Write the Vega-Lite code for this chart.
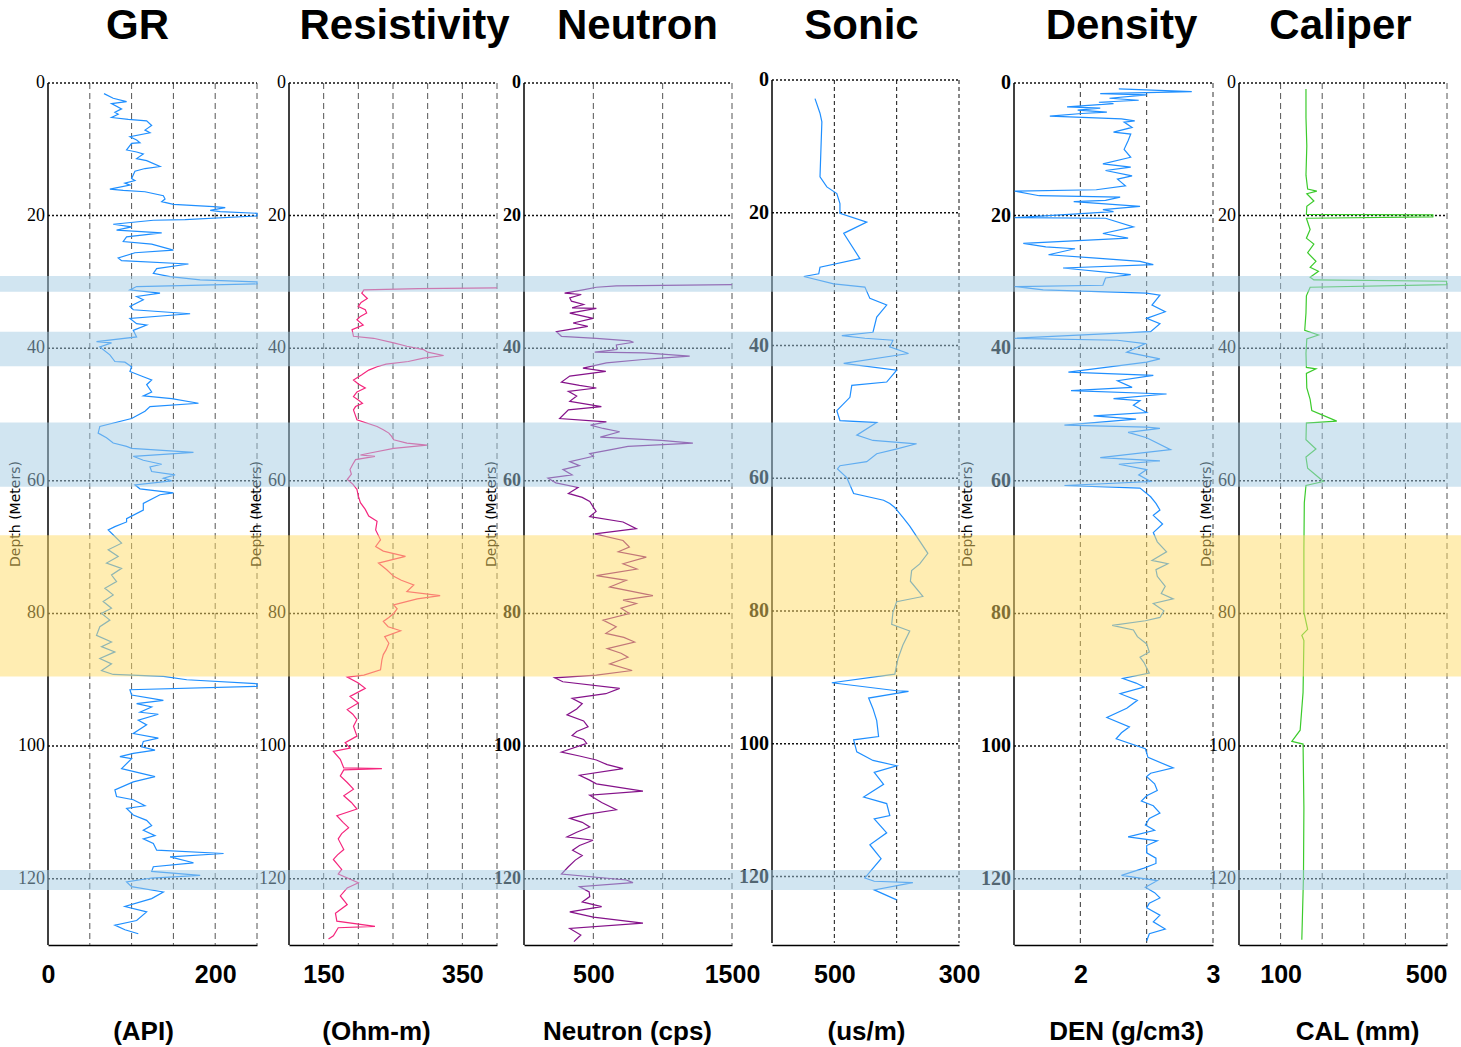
{
  "$schema": "https://vega.github.io/schema/vega-lite/v6.json",
  "width": 1461,
  "height": 945,
  "autosize": {"type": "none"},
  "padding": {"left": 0, "top": 0, "right": 0, "bottom": 102},
  "background": "white",
  "config": {
    "view": {"stroke": null},
    "axisX": {
      "ticks": false, "domain": true, "domainColor": "#000", "domainWidth": 1.5, "grid": false,
      "labelFont": "Liberation Sans", "labelFontSize": 25, "labelFontWeight": "bold", "labelPadding": 17,
      "labelColor": "#000", "labelFlush": false, "labelOverlap": false,
      "titleFont": "Liberation Sans", "titleFontSize": 26, "titleFontWeight": "bold", "titleColor": "#000",
      "titleBaseline": "middle", "titleAlign": "center"
    }
  },
  "datasets": {
    "depthticks": [{"depth":0},{"depth":20},{"depth":40},{"depth":60},{"depth":80},{"depth":100},{"depth":120}],
    "ytitle": [{"label": "Depth (Meters)"}],
    "xticks": [
      {"track":"GR","value":50},{"track":"GR","value":100},{"track":"GR","value":150},{"track":"GR","value":200},{"track":"GR","value":250},
      {"track":"RES","value":150},{"track":"RES","value":200},{"track":"RES","value":250},{"track":"RES","value":300},{"track":"RES","value":350},{"track":"RES","value":400},
      {"track":"NEU","value":500},{"track":"NEU","value":1000},{"track":"NEU","value":1500},
      {"track":"SON","value":500},{"track":"SON","value":400},{"track":"SON","value":300},
      {"track":"DEN","value":2},{"track":"DEN","value":2.5},{"track":"DEN","value":3},
      {"track":"CAL","value":100},{"track":"CAL","value":200},{"track":"CAL","value":300},{"track":"CAL","value":400},{"track":"CAL","value":500}
    ],
    "gr": [
      {"depth":1.6,"value":67},{"depth":2.3,"value":78},{"depth":2.8,"value":94},{"depth":3.1,"value":76},{"depth":3.9,"value":88},{"depth":4.4,"value":80},{"depth":4.7,"value":84},{"depth":5.2,"value":76},{"depth":5.5,"value":96},{"depth":5.7,"value":118},{"depth":6.4,"value":124},{"depth":7.1,"value":116},{"depth":7.5,"value":122},{"depth":8.1,"value":98},{"depth":8.6,"value":106},{"depth":9.0,"value":110},{"depth":9.1,"value":100},{"depth":10.1,"value":94},{"depth":10.4,"value":106},{"depth":10.7,"value":114},{"depth":11.4,"value":106},{"depth":11.7,"value":118},{"depth":12.6,"value":134},{"depth":12.9,"value":116},{"depth":13.3,"value":104},{"depth":14.4,"value":100},{"depth":14.7,"value":104},{"depth":15.1,"value":92},{"depth":15.4,"value":98},{"depth":16.0,"value":74},{"depth":16.2,"value":90},{"depth":16.4,"value":116},{"depth":17.0,"value":138},{"depth":17.5,"value":140},{"depth":17.9,"value":136},{"depth":18.3,"value":150},{"depth":18.65,"value":198},{"depth":18.8,"value":212},{"depth":19.2,"value":194},{"depth":19.4,"value":206},{"depth":19.65,"value":250},{"depth":20.05,"value":250},{"depth":20.6,"value":164},{"depth":20.7,"value":126},{"depth":21.3,"value":78},{"depth":21.7,"value":100},{"depth":22.2,"value":82},{"depth":22.6,"value":136},{"depth":23.2,"value":94},{"depth":23.9,"value":90},{"depth":24.3,"value":124},{"depth":25.2,"value":150},{"depth":25.6,"value":104},{"depth":26.4,"value":84},{"depth":26.8,"value":88},{"depth":27.3,"value":168},{"depth":28.0,"value":130},{"depth":28.7,"value":126},{"depth":29.2,"value":146},{"depth":29.7,"value":182},{"depth":30.0,"value":250},{"depth":30.3,"value":250},{"depth":30.7,"value":106},{"depth":31.2,"value":98},{"depth":31.7,"value":134},{"depth":32.2,"value":106},{"depth":32.7,"value":114},{"depth":33.7,"value":98},{"depth":34.2,"value":102},{"depth":34.8,"value":170},{"depth":35.5,"value":98},{"depth":36.3,"value":106},{"depth":36.5,"value":118},{"depth":37.3,"value":102},{"depth":38.3,"value":106},{"depth":39.0,"value":58},{"depth":39.2,"value":76},{"depth":39.8,"value":62},{"depth":41.0,"value":74},{"depth":42.0,"value":80},{"depth":42.1,"value":92},{"depth":42.8,"value":100},{"depth":43.5,"value":98},{"depth":44.3,"value":114},{"depth":44.8,"value":124},{"depth":45.5,"value":118},{"depth":46.6,"value":124},{"depth":47.2,"value":114},{"depth":47.6,"value":148},{"depth":48.3,"value":180},{"depth":48.8,"value":122},{"depth":49.5,"value":116},{"depth":50.6,"value":100},{"depth":51.8,"value":62},{"depth":52.8,"value":60},{"depth":53.5,"value":70},{"depth":54.3,"value":78},{"depth":54.8,"value":94},{"depth":55.1,"value":100},{"depth":55.7,"value":174},{"depth":56.3,"value":102},{"depth":56.9,"value":114},{"depth":57.5,"value":136},{"depth":57.9,"value":122},{"depth":58.6,"value":124},{"depth":59.1,"value":152},{"depth":59.6,"value":138},{"depth":60.0,"value":148},{"depth":60.6,"value":104},{"depth":61.2,"value":110},{"depth":61.8,"value":150},{"depth":62.1,"value":134},{"depth":63.4,"value":114},{"depth":64.4,"value":114},{"depth":65.7,"value":94},{"depth":66.2,"value":94},{"depth":66.9,"value":80},{"depth":67.4,"value":72},{"depth":68.4,"value":80},{"depth":69.4,"value":88},{"depth":70.4,"value":72},{"depth":71.4,"value":84},{"depth":72.4,"value":70},{"depth":73.2,"value":88},{"depth":74.2,"value":76},{"depth":75.2,"value":82},{"depth":76.2,"value":68},{"depth":77.2,"value":78},{"depth":78.2,"value":66},{"depth":79.2,"value":76},{"depth":80.0,"value":64},{"depth":81.0,"value":74},{"depth":82.0,"value":62},{"depth":83.3,"value":58},{"depth":84.3,"value":76},{"depth":85.0,"value":64},{"depth":85.8,"value":80},{"depth":86.8,"value":62},{"depth":87.6,"value":76},{"depth":88.6,"value":64},{"depth":89.2,"value":78},{"depth":89.5,"value":138},{"depth":90.0,"value":166},{"depth":90.6,"value":250},{"depth":91.0,"value":250},{"depth":91.5,"value":98},{"depth":92.3,"value":100},{"depth":93.1,"value":138},{"depth":93.6,"value":106},{"depth":94.1,"value":124},{"depth":94.9,"value":110},{"depth":95.2,"value":132},{"depth":96.1,"value":108},{"depth":96.8,"value":118},{"depth":98.1,"value":102},{"depth":98.8,"value":132},{"depth":99.3,"value":114},{"depth":100.1,"value":112},{"depth":100.6,"value":128},{"depth":101.1,"value":102},{"depth":101.6,"value":86},{"depth":101.9,"value":100},{"depth":103.4,"value":88},{"depth":104.6,"value":128},{"depth":105.4,"value":102},{"depth":106.6,"value":80},{"depth":107.6,"value":82},{"depth":108.1,"value":102},{"depth":109.0,"value":116},{"depth":109.4,"value":94},{"depth":110.4,"value":102},{"depth":111.2,"value":118},{"depth":112.0,"value":124},{"depth":112.7,"value":114},{"depth":113.5,"value":128},{"depth":114.0,"value":114},{"depth":114.7,"value":126},{"depth":115.7,"value":130},{"depth":116.2,"value":210},{"depth":116.7,"value":146},{"depth":117.6,"value":174},{"depth":118.2,"value":126},{"depth":118.9,"value":124},{"depth":119.5,"value":182},{"depth":119.9,"value":124},{"depth":120.5,"value":94},{"depth":121.2,"value":100},{"depth":122.0,"value":138},{"depth":123.0,"value":124},{"depth":124.2,"value":92},{"depth":125.0,"value":118},{"depth":126.3,"value":106},{"depth":127.0,"value":80},{"depth":127.7,"value":92},{"depth":128.3,"value":108}
    ],
    "res": [
      {"depth":30.9,"value":400},{"depth":31.0,"value":287},{"depth":31.2,"value":208},{"depth":31.7,"value":205},{"depth":32.5,"value":213},{"depth":33.1,"value":204},{"depth":33.7,"value":200},{"depth":34.2,"value":210},{"depth":34.7,"value":212},{"depth":35.2,"value":203},{"depth":35.7,"value":198},{"depth":36.5,"value":207},{"depth":37.2,"value":191},{"depth":38.2,"value":193},{"depth":38.5,"value":222},{"depth":39.2,"value":251},{"depth":39.7,"value":270},{"depth":40.2,"value":294},{"depth":40.6,"value":300},{"depth":41.1,"value":323},{"depth":41.5,"value":294},{"depth":42.0,"value":272},{"depth":42.4,"value":240},{"depth":42.8,"value":227},{"depth":43.3,"value":215},{"depth":44.0,"value":205},{"depth":44.8,"value":193},{"depth":45.4,"value":200},{"depth":46.0,"value":210},{"depth":46.6,"value":198},{"depth":47.3,"value":193},{"depth":47.8,"value":200},{"depth":48.3,"value":206},{"depth":48.8,"value":196},{"depth":49.3,"value":193},{"depth":50.8,"value":198},{"depth":51.8,"value":227},{"depth":52.3,"value":236},{"depth":52.8,"value":244},{"depth":53.3,"value":248},{"depth":53.8,"value":251},{"depth":54.3,"value":270},{"depth":54.6,"value":299},{"depth":55.1,"value":251},{"depth":55.8,"value":217},{"depth":56.1,"value":203},{"depth":56.3,"value":224},{"depth":56.8,"value":196},{"depth":57.5,"value":192},{"depth":58.3,"value":188},{"depth":59.0,"value":190},{"depth":59.8,"value":184},{"depth":60.5,"value":192},{"depth":61.3,"value":198},{"depth":62.3,"value":200},{"depth":63.3,"value":203},{"depth":64.3,"value":210},{"depth":65.3,"value":215},{"depth":66.1,"value":227},{"depth":67.4,"value":225},{"depth":68.9,"value":232},{"depth":69.9,"value":225},{"depth":70.6,"value":236},{"depth":71.4,"value":268},{"depth":72.4,"value":229},{"depth":73.4,"value":241},{"depth":74.4,"value":251},{"depth":75.0,"value":262},{"depth":75.7,"value":280},{"depth":76.7,"value":270},{"depth":77.3,"value":318},{"depth":77.8,"value":285},{"depth":78.7,"value":251},{"depth":79.3,"value":256},{"depth":80.0,"value":251},{"depth":80.6,"value":244},{"depth":81.2,"value":236},{"depth":82.0,"value":243},{"depth":82.6,"value":261},{"depth":83.5,"value":238},{"depth":84.5,"value":244},{"depth":85.5,"value":240},{"depth":86.2,"value":236},{"depth":87.0,"value":234},{"depth":88.5,"value":232},{"depth":89.3,"value":208},{"depth":89.6,"value":184},{"depth":90.5,"value":200},{"depth":91.3,"value":210},{"depth":92.5,"value":188},{"depth":93.5,"value":200},{"depth":94.5,"value":184},{"depth":95.2,"value":192},{"depth":96.0,"value":198},{"depth":97.0,"value":193},{"depth":98.5,"value":198},{"depth":99.5,"value":181},{"depth":100.3,"value":188},{"depth":100.8,"value":164},{"depth":102.0,"value":174},{"depth":103.3,"value":179},{"depth":103.4,"value":234},{"depth":103.6,"value":179},{"depth":104.5,"value":174},{"depth":105.5,"value":184},{"depth":106.5,"value":193},{"depth":107.5,"value":179},{"depth":108.5,"value":190},{"depth":109.5,"value":198},{"depth":110.5,"value":169},{"depth":111.5,"value":178},{"depth":112.3,"value":186},{"depth":113.2,"value":176},{"depth":114.0,"value":171},{"depth":115.6,"value":179},{"depth":116.4,"value":170},{"depth":117.1,"value":164},{"depth":118.6,"value":176},{"depth":119.3,"value":171},{"depth":120.6,"value":200},{"depth":121.4,"value":184},{"depth":122.6,"value":174},{"depth":123.9,"value":184},{"depth":125.2,"value":167},{"depth":126.4,"value":169},{"depth":127.2,"value":224},{"depth":127.4,"value":171},{"depth":128.6,"value":164},{"depth":129.1,"value":157}
    ],
    "neu": [
      {"depth":30.4,"value":1500},{"depth":30.6,"value":666},{"depth":30.8,"value":522},{"depth":31.2,"value":425},{"depth":31.7,"value":293},{"depth":31.9,"value":413},{"depth":32.4,"value":330},{"depth":32.9,"value":342},{"depth":33.4,"value":430},{"depth":33.9,"value":347},{"depth":34.0,"value":522},{"depth":34.7,"value":330},{"depth":35.5,"value":498},{"depth":36.2,"value":354},{"depth":36.7,"value":460},{"depth":37.5,"value":234},{"depth":38.2,"value":270},{"depth":38.5,"value":522},{"depth":38.9,"value":762},{"depth":39.1,"value":790},{"depth":39.5,"value":666},{"depth":40.2,"value":670},{"depth":40.6,"value":510},{"depth":40.7,"value":870},{"depth":41.2,"value":1195},{"depth":41.5,"value":990},{"depth":41.7,"value":860},{"depth":42.2,"value":594},{"depth":43.0,"value":425},{"depth":43.5,"value":590},{"depth":44.2,"value":330},{"depth":45.1,"value":270},{"depth":45.6,"value":400},{"depth":46.0,"value":522},{"depth":46.5,"value":320},{"depth":47.2,"value":380},{"depth":48.0,"value":330},{"depth":48.8,"value":558},{"depth":49.3,"value":320},{"depth":50.6,"value":257},{"depth":51.1,"value":594},{"depth":51.6,"value":480},{"depth":52.1,"value":570},{"depth":52.6,"value":690},{"depth":53.4,"value":550},{"depth":53.9,"value":990},{"depth":54.3,"value":1218},{"depth":54.8,"value":750},{"depth":55.4,"value":600},{"depth":55.9,"value":474},{"depth":56.3,"value":500},{"depth":57.1,"value":330},{"depth":57.7,"value":400},{"depth":58.3,"value":281},{"depth":59.1,"value":347},{"depth":59.6,"value":173},{"depth":60.3,"value":230},{"depth":61.0,"value":390},{"depth":61.9,"value":320},{"depth":62.5,"value":420},{"depth":63.1,"value":474},{"depth":63.9,"value":498},{"depth":64.6,"value":520},{"depth":65.4,"value":474},{"depth":66.2,"value":714},{"depth":67.2,"value":810},{"depth":68.0,"value":510},{"depth":69.0,"value":714},{"depth":70.0,"value":760},{"depth":70.7,"value":680},{"depth":71.5,"value":882},{"depth":72.5,"value":714},{"depth":73.3,"value":815},{"depth":74.3,"value":522},{"depth":75.0,"value":738},{"depth":76.0,"value":618},{"depth":76.6,"value":760},{"depth":77.3,"value":930},{"depth":78.0,"value":714},{"depth":78.5,"value":810},{"depth":79.2,"value":700},{"depth":80.0,"value":760},{"depth":81.0,"value":570},{"depth":82.0,"value":665},{"depth":83.0,"value":590},{"depth":83.6,"value":720},{"depth":84.3,"value":798},{"depth":85.3,"value":600},{"depth":86.0,"value":700},{"depth":86.6,"value":750},{"depth":87.6,"value":618},{"depth":88.6,"value":780},{"depth":89.3,"value":522},{"depth":89.7,"value":221},{"depth":90.3,"value":280},{"depth":91.3,"value":690},{"depth":92.1,"value":590},{"depth":92.8,"value":347},{"depth":93.6,"value":420},{"depth":94.4,"value":380},{"depth":95.3,"value":310},{"depth":96.2,"value":430},{"depth":97.1,"value":462},{"depth":97.8,"value":380},{"depth":98.4,"value":347},{"depth":99.0,"value":430},{"depth":99.6,"value":452},{"depth":100.9,"value":270},{"depth":101.5,"value":400},{"depth":102.1,"value":522},{"depth":102.8,"value":600},{"depth":103.4,"value":714},{"depth":104.4,"value":400},{"depth":105.1,"value":470},{"depth":105.7,"value":522},{"depth":106.8,"value":858},{"depth":107.4,"value":474},{"depth":108.5,"value":560},{"depth":109.6,"value":666},{"depth":110.3,"value":450},{"depth":110.9,"value":330},{"depth":111.5,"value":420},{"depth":112.2,"value":474},{"depth":113.0,"value":380},{"depth":113.7,"value":310},{"depth":114.2,"value":498},{"depth":115.0,"value":400},{"depth":115.7,"value":350},{"depth":116.5,"value":420},{"depth":117.2,"value":370},{"depth":118.2,"value":320},{"depth":119.3,"value":270},{"depth":120.2,"value":738},{"depth":120.6,"value":786},{"depth":121.2,"value":400},{"depth":122.0,"value":470},{"depth":122.7,"value":474},{"depth":123.5,"value":420},{"depth":124.2,"value":560},{"depth":125.0,"value":330},{"depth":125.8,"value":500},{"depth":126.7,"value":858},{"depth":127.5,"value":330},{"depth":128.5,"value":410},{"depth":129.5,"value":360}
    ],
    "son": [
      {"depth":2.8,"value":531},{"depth":5.0,"value":523},{"depth":6.3,"value":520},{"depth":14.6,"value":523},{"depth":16.1,"value":512},{"depth":17.1,"value":496},{"depth":18.6,"value":491},{"depth":20.1,"value":491},{"depth":21.4,"value":448},{"depth":23.1,"value":485},{"depth":26.9,"value":459},{"depth":28.2,"value":523},{"depth":29.2,"value":525},{"depth":29.6,"value":549},{"depth":30.7,"value":501},{"depth":31.2,"value":451},{"depth":32.9,"value":443},{"depth":33.9,"value":416},{"depth":35.7,"value":432},{"depth":38.0,"value":438},{"depth":38.5,"value":488},{"depth":38.9,"value":451},{"depth":39.2,"value":406},{"depth":40.2,"value":411},{"depth":41.2,"value":381},{"depth":42.7,"value":485},{"depth":43.7,"value":400},{"depth":45.5,"value":416},{"depth":46.0,"value":472},{"depth":47.8,"value":475},{"depth":49.8,"value":496},{"depth":51.3,"value":491},{"depth":51.6,"value":432},{"depth":53.5,"value":464},{"depth":54.3,"value":438},{"depth":54.8,"value":368},{"depth":55.6,"value":401},{"depth":56.3,"value":432},{"depth":57.5,"value":448},{"depth":58.1,"value":491},{"depth":58.6,"value":495},{"depth":59.9,"value":480},{"depth":62.3,"value":469},{"depth":63.3,"value":421},{"depth":63.8,"value":411},{"depth":64.4,"value":403},{"depth":65.9,"value":390},{"depth":67.2,"value":379},{"depth":71.3,"value":350},{"depth":72.9,"value":363},{"depth":73.9,"value":376},{"depth":75.5,"value":378},{"depth":77.8,"value":358},{"depth":78.6,"value":400},{"depth":80.2,"value":406},{"depth":82.0,"value":408},{"depth":83.0,"value":379},{"depth":85.1,"value":390},{"depth":87.2,"value":398},{"depth":89.5,"value":403},{"depth":90.8,"value":504},{"depth":92.0,"value":400},{"depth":92.1,"value":381},{"depth":93.1,"value":445},{"depth":94.7,"value":438},{"depth":96.5,"value":432},{"depth":98.9,"value":429},{"depth":99.4,"value":469},{"depth":101.2,"value":464},{"depth":102.5,"value":438},{"depth":103.3,"value":400},{"depth":104.3,"value":436},{"depth":106.1,"value":421},{"depth":108.0,"value":453},{"depth":109.0,"value":416},{"depth":110.8,"value":411},{"depth":111.3,"value":436},{"depth":113.4,"value":416},{"depth":115.2,"value":443},{"depth":117.3,"value":425},{"depth":120.2,"value":451},{"depth":120.7,"value":436},{"depth":120.9,"value":374},{"depth":122.0,"value":436},{"depth":123.5,"value":400}
    ],
    "den": [
      {"depth":0.9,"value":2.29},{"depth":1.3,"value":2.84},{"depth":1.6,"value":2.15},{"depth":1.8,"value":2.5},{"depth":2.3,"value":2.22},{"depth":2.6,"value":2.44},{"depth":2.9,"value":2.14},{"depth":3.1,"value":2.25},{"depth":3.6,"value":1.9},{"depth":3.8,"value":2.15},{"depth":4.1,"value":1.98},{"depth":4.4,"value":2.2},{"depth":4.6,"value":2.01},{"depth":5.0,"value":1.77},{"depth":5.4,"value":2.31},{"depth":5.7,"value":2.41},{"depth":5.9,"value":2.33},{"depth":6.7,"value":2.39},{"depth":7.4,"value":2.25},{"depth":7.7,"value":2.38},{"depth":8.7,"value":2.36},{"depth":10.0,"value":2.33},{"depth":11.2,"value":2.38},{"depth":12.2,"value":2.17},{"depth":12.7,"value":2.38},{"depth":13.2,"value":2.19},{"depth":14.0,"value":2.39},{"depth":14.5,"value":2.28},{"depth":15.5,"value":2.34},{"depth":16.1,"value":2.12},{"depth":16.3,"value":1.505},{"depth":17.0,"value":1.69},{"depth":17.2,"value":2.3},{"depth":17.7,"value":2.19},{"depth":17.9,"value":1.95},{"depth":18.6,"value":2.45},{"depth":19.1,"value":2.17},{"depth":19.4,"value":2.25},{"depth":20.3,"value":1.505},{"depth":20.4,"value":2.19},{"depth":21.7,"value":2.4},{"depth":22.7,"value":2.17},{"depth":23.4,"value":2.36},{"depth":24.2,"value":1.57},{"depth":24.7,"value":1.74},{"depth":25.0,"value":1.96},{"depth":25.9,"value":1.76},{"depth":26.4,"value":2.12},{"depth":26.9,"value":2.45},{"depth":27.4,"value":2.55},{"depth":27.9,"value":1.87},{"depth":28.9,"value":2.38},{"depth":29.4,"value":2.19},{"depth":30.5,"value":2.17},{"depth":30.7,"value":1.505},{"depth":31.2,"value":1.72},{"depth":31.7,"value":2.5},{"depth":32.0,"value":2.6},{"depth":33.5,"value":2.54},{"depth":34.5,"value":2.64},{"depth":35.5,"value":2.5},{"depth":36.3,"value":2.6},{"depth":37.5,"value":2.53},{"depth":38.5,"value":1.505},{"depth":38.8,"value":2.28},{"depth":39.3,"value":2.49},{"depth":40.6,"value":2.35},{"depth":41.6,"value":2.6},{"depth":42.1,"value":2.5},{"depth":43.6,"value":1.91},{"depth":44.1,"value":2.55},{"depth":44.9,"value":2.28},{"depth":45.9,"value":2.39},{"depth":46.4,"value":1.93},{"depth":46.9,"value":2.65},{"depth":47.6,"value":2.25},{"depth":47.9,"value":2.45},{"depth":48.6,"value":2.4},{"depth":49.7,"value":2.5},{"depth":50.2,"value":2.1},{"depth":50.7,"value":2.42},{"depth":51.6,"value":1.88},{"depth":51.9,"value":2.5},{"depth":52.1,"value":2.6},{"depth":52.7,"value":2.36},{"depth":53.5,"value":2.5},{"depth":55.3,"value":2.68},{"depth":56.5,"value":2.15},{"depth":57.0,"value":2.6},{"depth":57.5,"value":2.29},{"depth":58.3,"value":2.5},{"depth":59.1,"value":2.44},{"depth":60.1,"value":2.53},{"depth":60.7,"value":1.88},{"depth":61.1,"value":2.45},{"depth":62.4,"value":2.53},{"depth":63.4,"value":2.57},{"depth":64.4,"value":2.6},{"depth":65.2,"value":2.55},{"depth":66.5,"value":2.62},{"depth":67.8,"value":2.55},{"depth":69.2,"value":2.58},{"depth":70.7,"value":2.65},{"depth":72.0,"value":2.54},{"depth":72.5,"value":2.66},{"depth":73.4,"value":2.57},{"depth":74.4,"value":2.58},{"depth":75.9,"value":2.64},{"depth":77.0,"value":2.61},{"depth":77.8,"value":2.7},{"depth":78.5,"value":2.55},{"depth":79.6,"value":2.63},{"depth":80.6,"value":2.6},{"depth":81.1,"value":2.49},{"depth":81.8,"value":2.24},{"depth":82.5,"value":2.4},{"depth":83.5,"value":2.43},{"depth":84.6,"value":2.5},{"depth":85.8,"value":2.52},{"depth":86.6,"value":2.45},{"depth":87.4,"value":2.48},{"depth":89.0,"value":2.52},{"depth":89.8,"value":2.32},{"depth":90.5,"value":2.42},{"depth":91.1,"value":2.48},{"depth":92.1,"value":2.3},{"depth":93.1,"value":2.43},{"depth":94.3,"value":2.35},{"depth":95.7,"value":2.2},{"depth":97.1,"value":2.37},{"depth":98.0,"value":2.31},{"depth":98.9,"value":2.27},{"depth":100.4,"value":2.49},{"depth":101.7,"value":2.51},{"depth":103.3,"value":2.7},{"depth":104.1,"value":2.53},{"depth":104.6,"value":2.5},{"depth":105.7,"value":2.56},{"depth":106.7,"value":2.58},{"depth":107.5,"value":2.5},{"depth":108.3,"value":2.46},{"depth":109.0,"value":2.55},{"depth":110.1,"value":2.6},{"depth":110.9,"value":2.52},{"depth":111.9,"value":2.49},{"depth":112.7,"value":2.56},{"depth":113.7,"value":2.36},{"depth":114.3,"value":2.58},{"depth":115.0,"value":2.5},{"depth":116.1,"value":2.5},{"depth":116.9,"value":2.57},{"depth":117.7,"value":2.57},{"depth":118.4,"value":2.48},{"depth":119.5,"value":2.31},{"depth":120.3,"value":2.58},{"depth":121.3,"value":2.49},{"depth":122.1,"value":2.56},{"depth":122.9,"value":2.6},{"depth":123.7,"value":2.52},{"depth":124.4,"value":2.5},{"depth":125.5,"value":2.6},{"depth":126.5,"value":2.55},{"depth":127.6,"value":2.64},{"depth":128.3,"value":2.52},{"depth":129.4,"value":2.5}
    ],
    "cal": [
      {"depth":0.9,"value":161},{"depth":5.2,"value":161},{"depth":9.5,"value":163},{"depth":13.9,"value":161},{"depth":16.0,"value":165},{"depth":16.3,"value":187},{"depth":16.7,"value":163},{"depth":17.8,"value":180},{"depth":18.6,"value":163},{"depth":19.8,"value":162},{"depth":19.9,"value":466},{"depth":20.2,"value":466},{"depth":20.4,"value":162},{"depth":22.1,"value":171},{"depth":23.4,"value":162},{"depth":24.3,"value":180},{"depth":25.6,"value":165},{"depth":26.9,"value":185},{"depth":27.8,"value":171},{"depth":28.4,"value":191},{"depth":29.3,"value":171},{"depth":29.7,"value":180},{"depth":29.9,"value":499},{"depth":30.4,"value":499},{"depth":30.8,"value":171},{"depth":32.1,"value":162},{"depth":34.7,"value":161},{"depth":37.3,"value":158},{"depth":38.0,"value":191},{"depth":38.6,"value":163},{"depth":40.8,"value":161},{"depth":42.9,"value":162},{"depth":43.1,"value":185},{"depth":43.8,"value":162},{"depth":46.0,"value":163},{"depth":47.7,"value":171},{"depth":49.4,"value":175},{"depth":51.0,"value":235},{"depth":51.3,"value":162},{"depth":53.8,"value":161},{"depth":55.2,"value":185},{"depth":56.4,"value":161},{"depth":58.1,"value":165},{"depth":60.1,"value":203},{"depth":60.7,"value":161},{"depth":63.3,"value":157},{"depth":70.3,"value":156},{"depth":79.8,"value":156},{"depth":82.4,"value":165},{"depth":83.3,"value":151},{"depth":84.1,"value":156},{"depth":91.9,"value":154},{"depth":97.6,"value":147},{"depth":99.3,"value":127},{"depth":99.7,"value":154},{"depth":109.3,"value":156},{"depth":119.7,"value":155},{"depth":129.2,"value":151}
    ],
    "zones": [
      {"top":29.1,"bottom":31.5,"zone":"marker"},
      {"top":37.5,"bottom":42.7,"zone":"marker"},
      {"top":51.2,"bottom":60.9,"zone":"marker"},
      {"top":68.2,"bottom":89.5,"zone":"reservoir"},
      {"top":118.7,"bottom":121.7,"zone":"marker"}
    ]
  },
  "layer": [
    {
      "layer": [
        {"data": {"name": "xticks"}, "transform": [{"filter": "datum.track == 'GR'"}],
         "mark": {"type": "rule", "color": "#555", "strokeDash": [6, 4], "strokeWidth": 1},
         "encoding": {"x": {"field": "value", "type": "quantitative", "axis": null}, "y": {"datum": 0, "type": "quantitative", "axis": null}, "y2": {"datum": 130}}},
        {"data": {"name": "depthticks"},
         "mark": {"type": "rule", "color": "#111", "strokeDash": [2, 2], "strokeWidth": 1.5},
         "encoding": {"y": {"field": "depth", "type": "quantitative", "axis": null}, "x": {"datum": 0, "type": "quantitative", "axis": null}, "x2": {"datum": 250}}},
        {"data": {"name": "depthticks"}, "transform": [{"filter": "datum.depth == 0"}],
         "mark": {"type": "rule", "color": "#000", "strokeWidth": 1.5},
         "encoding": {"x": {"datum": 0, "type": "quantitative", "axis": null}, "y": {"datum": 0, "type": "quantitative", "axis": null}, "y2": {"datum": 130}}},
        {"data": {"name": "depthticks"},
         "mark": {"type": "text", "align": "right", "baseline": "middle", "dx": -3, "font": "Liberation Sans Narrow", "fontSize": 18, "color": "#000"},
         "encoding": {"x": {"datum": 0, "type": "quantitative", "axis": null}, "y": {"field": "depth", "type": "quantitative", "axis": null}, "text": {"field": "depth", "type": "quantitative"}}},
        {"data": {"name": "ytitle"},
         "mark": {"type": "text", "angle": 270, "align": "center", "baseline": "middle", "dy": -32, "font": "DejaVu Sans", "fontSize": 14, "color": "#000"},
         "encoding": {"x": {"datum": 0, "type": "quantitative", "axis": null}, "y": {"datum": 65, "type": "quantitative", "axis": null}, "text": {"field": "label"}}},
        {
          "data": {"name": "gr"},
          "mark": {"type": "line", "color": "#1f8fff", "strokeWidth": 1.2},
          "encoding": {
            "x": {"field": "value", "type": "quantitative", "scale": {"domain": [0, 250], "range": [48, 257], "nice": false, "zero": false},
                  "axis": {"orient": "bottom", "values": [0, 50, 100, 150, 200, 250], "labelExpr": "datum.value == 0 || datum.value == 200 ? datum.label : ''", "title": "(API)", "titleX": 143, "titleY": 86}},
            "y": {"field": "depth", "type": "quantitative", "scale": {"domain": [0, 130], "range": [83, 945], "nice": false, "zero": false}, "axis": null},
            "order": {"field": "depth", "type": "quantitative"}
          }
        },
        {
          "data": {"name": "gr"},
          "mark": {"type": "point", "opacity": 0},
          "encoding": {
            "x": {"field": "value", "type": "quantitative", "axis": {"orient": "top", "domain": false, "labels": false, "ticks": false, "title": "GR", "titleFontSize": 42, "titleX": 137, "titleY": 25}},
            "y": {"field": "depth", "type": "quantitative", "axis": null}
          }
        }
      ],
      "resolve": {"axis": {"x": "independent"}}
    },
    {
      "layer": [
        {"data": {"name": "xticks"}, "transform": [{"filter": "datum.track == 'RES'"}],
         "mark": {"type": "rule", "color": "#555", "strokeDash": [6, 4], "strokeWidth": 1},
         "encoding": {"x": {"field": "value", "type": "quantitative", "axis": null}, "y": {"datum": 0, "type": "quantitative", "axis": null}, "y2": {"datum": 130}}},
        {"data": {"name": "depthticks"},
         "mark": {"type": "rule", "color": "#111", "strokeDash": [2, 2], "strokeWidth": 1.5},
         "encoding": {"y": {"field": "depth", "type": "quantitative", "axis": null}, "x": {"datum": 100, "type": "quantitative", "axis": null}, "x2": {"datum": 400}}},
        {"data": {"name": "depthticks"}, "transform": [{"filter": "datum.depth == 0"}],
         "mark": {"type": "rule", "color": "#000", "strokeWidth": 1.5},
         "encoding": {"x": {"datum": 100, "type": "quantitative", "axis": null}, "y": {"datum": 0, "type": "quantitative", "axis": null}, "y2": {"datum": 130}}},
        {"data": {"name": "depthticks"},
         "mark": {"type": "text", "align": "right", "baseline": "middle", "dx": -3, "font": "Liberation Sans Narrow", "fontSize": 18, "color": "#000"},
         "encoding": {"x": {"datum": 100, "type": "quantitative", "axis": null}, "y": {"field": "depth", "type": "quantitative", "axis": null}, "text": {"field": "depth", "type": "quantitative"}}},
        {"data": {"name": "ytitle"},
         "mark": {"type": "text", "angle": 270, "align": "center", "baseline": "middle", "dy": -32, "font": "DejaVu Sans", "fontSize": 14, "color": "#000"},
         "encoding": {"x": {"datum": 100, "type": "quantitative", "axis": null}, "y": {"datum": 65, "type": "quantitative", "axis": null}, "text": {"field": "label"}}},
        {
          "data": {"name": "res"},
          "mark": {"type": "line", "color": "#f5267d", "strokeWidth": 1.2},
          "encoding": {
            "x": {"field": "value", "type": "quantitative", "scale": {"domain": [100, 400], "range": [289, 497], "nice": false, "zero": false},
                  "axis": {"orient": "bottom", "values": [100, 150, 200, 250, 300, 350, 400], "labelExpr": "datum.value == 150 || datum.value == 350 ? datum.label : ''", "title": "(Ohm-m)", "titleX": 376, "titleY": 86}},
            "y": {"field": "depth", "type": "quantitative", "scale": {"domain": [0, 130], "range": [83, 945], "nice": false, "zero": false}, "axis": null},
            "order": {"field": "depth", "type": "quantitative"}
          }
        },
        {
          "data": {"name": "res"},
          "mark": {"type": "point", "opacity": 0},
          "encoding": {
            "x": {"field": "value", "type": "quantitative", "axis": {"orient": "top", "domain": false, "labels": false, "ticks": false, "title": "Resistivity", "titleFontSize": 42, "titleX": 404, "titleY": 25}},
            "y": {"field": "depth", "type": "quantitative", "axis": null}
          }
        }
      ],
      "resolve": {"axis": {"x": "independent"}}
    },
    {
      "layer": [
        {"data": {"name": "xticks"}, "transform": [{"filter": "datum.track == 'NEU'"}],
         "mark": {"type": "rule", "color": "#555", "strokeDash": [6, 4], "strokeWidth": 1},
         "encoding": {"x": {"field": "value", "type": "quantitative", "axis": null}, "y": {"datum": 0, "type": "quantitative", "axis": null}, "y2": {"datum": 130}}},
        {"data": {"name": "depthticks"},
         "mark": {"type": "rule", "color": "#111", "strokeDash": [2, 2], "strokeWidth": 1.5},
         "encoding": {"y": {"field": "depth", "type": "quantitative", "axis": null}, "x": {"datum": 0, "type": "quantitative", "axis": null}, "x2": {"datum": 1500}}},
        {"data": {"name": "depthticks"}, "transform": [{"filter": "datum.depth == 0"}],
         "mark": {"type": "rule", "color": "#000", "strokeWidth": 1.5},
         "encoding": {"x": {"datum": 0, "type": "quantitative", "axis": null}, "y": {"datum": 0, "type": "quantitative", "axis": null}, "y2": {"datum": 130}}},
        {"data": {"name": "depthticks"},
         "mark": {"type": "text", "align": "right", "baseline": "middle", "dx": -3, "font": "Liberation Sans Narrow", "fontSize": 18, "fontWeight": "bold", "color": "#000"},
         "encoding": {"x": {"datum": 0, "type": "quantitative", "axis": null}, "y": {"field": "depth", "type": "quantitative", "axis": null}, "text": {"field": "depth", "type": "quantitative"}}},
        {"data": {"name": "ytitle"},
         "mark": {"type": "text", "angle": 270, "align": "center", "baseline": "middle", "dy": -32, "font": "DejaVu Sans", "fontSize": 14, "color": "#000"},
         "encoding": {"x": {"datum": 0, "type": "quantitative", "axis": null}, "y": {"datum": 65, "type": "quantitative", "axis": null}, "text": {"field": "label"}}},
        {
          "data": {"name": "neu"},
          "mark": {"type": "line", "color": "#85128a", "strokeWidth": 1.2},
          "encoding": {
            "x": {"field": "value", "type": "quantitative", "scale": {"domain": [0, 1500], "range": [524, 732], "nice": false, "zero": false},
                  "axis": {"orient": "bottom", "values": [0, 500, 1000, 1500], "labelExpr": "datum.value == 500 || datum.value == 1500 ? datum.value + '' : ''", "title": "Neutron (cps)", "titleX": 627, "titleY": 86}},
            "y": {"field": "depth", "type": "quantitative", "scale": {"domain": [0, 130], "range": [83, 945], "nice": false, "zero": false}, "axis": null},
            "order": {"field": "depth", "type": "quantitative"}
          }
        },
        {
          "data": {"name": "neu"},
          "mark": {"type": "point", "opacity": 0},
          "encoding": {
            "x": {"field": "value", "type": "quantitative", "axis": {"orient": "top", "domain": false, "labels": false, "ticks": false, "title": "Neutron", "titleFontSize": 42, "titleX": 637, "titleY": 25}},
            "y": {"field": "depth", "type": "quantitative", "axis": null}
          }
        }
      ],
      "resolve": {"axis": {"x": "independent"}}
    },
    {
      "layer": [
        {"data": {"name": "xticks"}, "transform": [{"filter": "datum.track == 'SON'"}],
         "mark": {"type": "rule", "color": "#111", "strokeDash": [4, 3], "strokeWidth": 1},
         "encoding": {"x": {"field": "value", "type": "quantitative", "axis": null}, "y": {"datum": 0, "type": "quantitative", "axis": null}, "y2": {"datum": 130}}},
        {"data": {"name": "depthticks"},
         "mark": {"type": "rule", "color": "#111", "strokeDash": [2, 2], "strokeWidth": 1.5},
         "encoding": {"y": {"field": "depth", "type": "quantitative", "axis": null}, "x": {"datum": 600, "type": "quantitative", "axis": null}, "x2": {"datum": 300}}},
        {"data": {"name": "depthticks"}, "transform": [{"filter": "datum.depth == 0"}],
         "mark": {"type": "rule", "color": "#000", "strokeWidth": 1.5},
         "encoding": {"x": {"datum": 600, "type": "quantitative", "axis": null}, "y": {"datum": 0, "type": "quantitative", "axis": null}, "y2": {"datum": 130}}},
        {"data": {"name": "depthticks"},
         "mark": {"type": "text", "align": "right", "baseline": "middle", "dx": -3, "font": "Liberation Sans Narrow", "fontSize": 20, "fontWeight": "bold", "color": "#000"},
         "encoding": {"x": {"datum": 600, "type": "quantitative", "axis": null}, "y": {"field": "depth", "type": "quantitative", "axis": null}, "text": {"field": "depth", "type": "quantitative"}}},
        {
          "data": {"name": "son"},
          "mark": {"type": "line", "color": "#1f8fff", "strokeWidth": 1.2},
          "encoding": {
            "x": {"field": "value", "type": "quantitative", "scale": {"domain": [300, 600], "reverse": true, "range": [772, 959], "nice": false, "zero": false},
                  "axis": {"orient": "bottom", "values": [300, 400, 500, 600], "labelExpr": "datum.value == 500 || datum.value == 300 ? datum.label : ''", "title": "(us/m)", "titleX": 866, "titleY": 86}},
            "y": {"field": "depth", "type": "quantitative", "scale": {"domain": [0, 130], "range": [80, 943], "nice": false, "zero": false}, "axis": null},
            "order": {"field": "depth", "type": "quantitative"}
          }
        },
        {
          "data": {"name": "son"},
          "mark": {"type": "point", "opacity": 0},
          "encoding": {
            "x": {"field": "value", "type": "quantitative", "axis": {"orient": "top", "domain": false, "labels": false, "ticks": false, "title": "Sonic", "titleFontSize": 42, "titleX": 861, "titleY": 25}},
            "y": {"field": "depth", "type": "quantitative", "axis": null}
          }
        }
      ],
      "resolve": {"axis": {"x": "independent"}}
    },
    {
      "layer": [
        {"data": {"name": "xticks"}, "transform": [{"filter": "datum.track == 'DEN'"}],
         "mark": {"type": "rule", "color": "#333", "strokeDash": [5, 4], "strokeWidth": 1},
         "encoding": {"x": {"field": "value", "type": "quantitative", "axis": null}, "y": {"datum": 0, "type": "quantitative", "axis": null}, "y2": {"datum": 130}}},
        {"data": {"name": "depthticks"},
         "mark": {"type": "rule", "color": "#111", "strokeDash": [2, 2], "strokeWidth": 1.5},
         "encoding": {"y": {"field": "depth", "type": "quantitative", "axis": null}, "x": {"datum": 1.5, "type": "quantitative", "axis": null}, "x2": {"datum": 3}}},
        {"data": {"name": "depthticks"}, "transform": [{"filter": "datum.depth == 0"}],
         "mark": {"type": "rule", "color": "#000", "strokeWidth": 1.5},
         "encoding": {"x": {"datum": 1.5, "type": "quantitative", "axis": null}, "y": {"datum": 0, "type": "quantitative", "axis": null}, "y2": {"datum": 130}}},
        {"data": {"name": "depthticks"},
         "mark": {"type": "text", "align": "right", "baseline": "middle", "dx": -3, "font": "Liberation Sans Narrow", "fontSize": 20, "fontWeight": "bold", "color": "#000"},
         "encoding": {"x": {"datum": 1.5, "type": "quantitative", "axis": null}, "y": {"field": "depth", "type": "quantitative", "axis": null}, "text": {"field": "depth", "type": "quantitative"}}},
        {"data": {"name": "ytitle"},
         "mark": {"type": "text", "angle": 270, "align": "center", "baseline": "middle", "dy": -46, "font": "DejaVu Sans", "fontSize": 14, "color": "#000"},
         "encoding": {"x": {"datum": 1.5, "type": "quantitative", "axis": null}, "y": {"datum": 65, "type": "quantitative", "axis": null}, "text": {"field": "label"}}},
        {
          "data": {"name": "den"},
          "mark": {"type": "line", "color": "#1f8fff", "strokeWidth": 1.2},
          "encoding": {
            "x": {"field": "value", "type": "quantitative", "scale": {"domain": [1.5, 3], "range": [1014, 1213], "nice": false, "zero": false},
                  "axis": {"orient": "bottom", "values": [1.5, 2, 2.5, 3], "labelExpr": "datum.value == 2 ? '2' : datum.value == 3 ? '3' : ''", "title": "DEN (g/cm3)", "titleX": 1126, "titleY": 86}},
            "y": {"field": "depth", "type": "quantitative", "scale": {"domain": [0, 130], "range": [83, 945], "nice": false, "zero": false}, "axis": null},
            "order": {"field": "depth", "type": "quantitative"}
          }
        },
        {
          "data": {"name": "den"},
          "mark": {"type": "point", "opacity": 0},
          "encoding": {
            "x": {"field": "value", "type": "quantitative", "axis": {"orient": "top", "domain": false, "labels": false, "ticks": false, "title": "Density", "titleFontSize": 42, "titleX": 1121, "titleY": 25}},
            "y": {"field": "depth", "type": "quantitative", "axis": null}
          }
        }
      ],
      "resolve": {"axis": {"x": "independent"}}
    },
    {
      "layer": [
        {"data": {"name": "xticks"}, "transform": [{"filter": "datum.track == 'CAL'"}],
         "mark": {"type": "rule", "color": "#555", "strokeDash": [6, 4], "strokeWidth": 1},
         "encoding": {"x": {"field": "value", "type": "quantitative", "axis": null}, "y": {"datum": 0, "type": "quantitative", "axis": null}, "y2": {"datum": 130}}},
        {"data": {"name": "depthticks"},
         "mark": {"type": "rule", "color": "#111", "strokeDash": [2, 2], "strokeWidth": 1.5},
         "encoding": {"y": {"field": "depth", "type": "quantitative", "axis": null}, "x": {"datum": 0, "type": "quantitative", "axis": null}, "x2": {"datum": 500}}},
        {"data": {"name": "depthticks"}, "transform": [{"filter": "datum.depth == 0"}],
         "mark": {"type": "rule", "color": "#000", "strokeWidth": 1.5},
         "encoding": {"x": {"datum": 0, "type": "quantitative", "axis": null}, "y": {"datum": 0, "type": "quantitative", "axis": null}, "y2": {"datum": 130}}},
        {"data": {"name": "depthticks"},
         "mark": {"type": "text", "align": "right", "baseline": "middle", "dx": -3, "font": "Liberation Sans Narrow", "fontSize": 18, "color": "#000"},
         "encoding": {"x": {"datum": 0, "type": "quantitative", "axis": null}, "y": {"field": "depth", "type": "quantitative", "axis": null}, "text": {"field": "depth", "type": "quantitative"}}},
        {"data": {"name": "ytitle"},
         "mark": {"type": "text", "angle": 270, "align": "center", "baseline": "middle", "dy": -32, "font": "DejaVu Sans", "fontSize": 14, "color": "#000"},
         "encoding": {"x": {"datum": 0, "type": "quantitative", "axis": null}, "y": {"datum": 65, "type": "quantitative", "axis": null}, "text": {"field": "label"}}},
        {
          "data": {"name": "cal"},
          "mark": {"type": "line", "color": "#3ccb2c", "strokeWidth": 1.2},
          "encoding": {
            "x": {"field": "value", "type": "quantitative", "scale": {"domain": [0, 500], "range": [1239, 1447], "nice": false, "zero": false},
                  "axis": {"orient": "bottom", "values": [0, 100, 200, 300, 400, 500], "labelExpr": "datum.value == 100 || datum.value == 500 ? datum.label : ''", "labelAlign": {"expr": "datum.value == 500 ? 'right' : 'center'"}, "title": "CAL (mm)", "titleX": 1357, "titleY": 86}},
            "y": {"field": "depth", "type": "quantitative", "scale": {"domain": [0, 130], "range": [83, 945], "nice": false, "zero": false}, "axis": null},
            "order": {"field": "depth", "type": "quantitative"}
          }
        },
        {
          "data": {"name": "cal"},
          "mark": {"type": "point", "opacity": 0},
          "encoding": {
            "x": {"field": "value", "type": "quantitative", "axis": {"orient": "top", "domain": false, "labels": false, "ticks": false, "title": "Caliper", "titleFontSize": 42, "titleX": 1340, "titleY": 25}},
            "y": {"field": "depth", "type": "quantitative", "axis": null}
          }
        }
      ],
      "resolve": {"axis": {"x": "independent"}}
    },
    {
      "data": {"name": "zones"},
      "mark": {"type": "rect", "opacity": 0.5},
      "encoding": {
        "y": {"field": "top", "type": "quantitative", "scale": {"domain": [0, 130], "range": [83, 945], "nice": false, "zero": false}, "axis": null},
        "y2": {"field": "bottom"},
        "color": {"field": "zone", "type": "nominal", "scale": {"domain": ["marker", "reservoir"], "range": ["#a3cce3", "#ffdb66"]}, "legend": null}
      }
    }
  ],
  "resolve": {"scale": {"x": "independent", "y": "independent"}, "axis": {"x": "independent", "y": "independent"}}
}
